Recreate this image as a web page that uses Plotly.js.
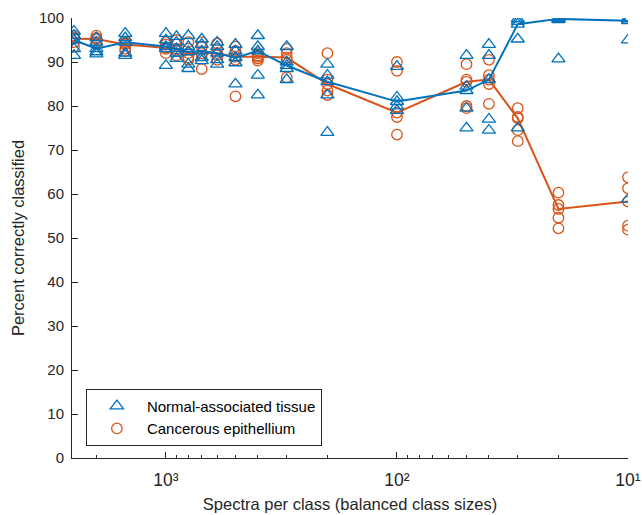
<!DOCTYPE html>
<html>
<head>
<meta charset="utf-8">
<script src="https://cdn.plot.ly/plotly-3.0.1.min.js"></script>
<style>html,body{margin:0;padding:0;background:#fff}#chart{width:642px;height:515px}</style>
</head>
<body>
<div id="chart"></div>
<script>
// Spectra per class (x positions)
const spectraPerClass = [2500, 2000, 1500, 1000, 900, 800, 700, 600, 500, 400, 300, 200, 100, 50, 40, 30, 20, 10];

// Normal-associated tissue: per-fold percent correct at each class size
const normalScores = [
  [97, 96, 95, 93, 91.5],
  [95.5, 94.5, 93, 92.3, 91.8],
  [96.5, 95.5, 94.5, 92, 91.5],
  [96.5, 95, 93.5, 93, 89.2],
  [95.8, 94.5, 93, 92, 90.8],
  [96, 93.5, 92.3, 89.5, 88.5],
  [95.2, 94, 92.5, 91, 90.3],
  [94.5, 93.5, 92, 90.5, 89.5],
  [94, 92.5, 91, 89.8, 85],
  [96, 93.5, 92.5, 87, 82.5],
  [93.5, 90, 89.2, 88.5, 86],
  [89.5, 87, 85.5, 82.5, 74],
  [89, 82, 81, 80, 79],
  [91.5, 84.5, 83.5, 79.5, 75],
  [94, 91.5, 86, 77, 74.5],
  [99.8, 99.2, 98.6, 95.2, 75],
  [100, 100, 99.8, 99.6, 90.7],
  [100, 99.8, 99.4, 95, 58.8]
];

// Cancerous epithelium: per-fold percent correct at each class size
const cancerScores = [
  [96, 95.5, 95.3, 94.5, 93.5],
  [96, 95.5, 95.2, 94.5, 94],
  [94.5, 94.2, 94, 93, 92.5],
  [94.5, 94, 93.3, 93, 92],
  [95, 94, 93, 92.5, 91.5],
  [94.5, 93, 92, 91, 90.5],
  [94.5, 93.5, 92, 91.5, 88.4],
  [94.2, 93, 92, 91.5, 90.5],
  [93.5, 92.5, 91.2, 90.5, 82.2],
  [92, 91.5, 91.2, 90.8, 90.3],
  [93, 92, 91, 90.5, 86.5],
  [92, 86, 85, 83.5, 82.5],
  [90, 88, 78.5, 77.5, 73.5],
  [89.5, 86, 85.5, 80, 79.5],
  [90.5, 87, 86, 85, 80.5],
  [79.5, 77.5, 77.2, 74.5, 72],
  [60.3, 57.5, 56.6, 54.6, 52.2],
  [63.8, 61.3, 58.3, 52.8, 51.9]
];

const seriesNames = ["Normal-associated tissue", "Cancerous epithellium"];
const yTickValues = [0, 10, 20, 30, 40, 50, 60, 70, 80, 90, 100];
const xTickValues = [1000, 100, 10];
const xTickLabels = ['10\u00B3', '10\u00B2', '10\u00B9'];

function median(a) {
  const s = a.slice().sort((p, q) => p - q);
  const m = Math.floor(s.length / 2);
  return s.length % 2 ? s[m] : (s[m - 1] + s[m]) / 2;
}
function flatten(scores) {
  const xs = [], ys = [];
  scores.forEach((row, i) => row.forEach(v => { xs.push(spectraPerClass[i]); ys.push(v); }));
  return {xs, ys};
}

const blue = '#0072BD', red = '#D95319';
const nf = flatten(normalScores), cf = flatten(cancerScores);

const traces = [
  {x: cf.xs, y: cf.ys, type: 'scatter', mode: 'markers', name: seriesNames[1], legendrank: 2,
   marker: {symbol: 'circle-open', size: 10.5, color: red, line: {width: 1.3, color: red}}},
  {x: spectraPerClass, y: cancerScores.map(median), type: 'scatter', mode: 'lines', showlegend: false,
   line: {color: red, width: 2}, hoverinfo: 'skip'},
  {x: nf.xs, y: nf.ys, type: 'scatter', mode: 'markers', name: seriesNames[0], legendrank: 1,
   marker: {symbol: 'triangle-up-open', size: 11.5, color: blue, line: {width: 1.3, color: blue}}},
  {x: spectraPerClass, y: normalScores.map(median), type: 'scatter', mode: 'lines', showlegend: false,
   line: {color: blue, width: 2}, hoverinfo: 'skip'}
];

const axisColor = '#262626';
const layout = {
  width: 642, height: 515,
  margin: {l: 72, r: 14, t: 18, b: 57},
  paper_bgcolor: '#fff', plot_bgcolor: '#fff',
  font: {family: 'Liberation Sans, Arial, sans-serif', size: 14.5, color: axisColor},
  showlegend: true,
  xaxis: {
    type: 'log',
    range: [Math.log10(2550), 1],
    tickmode: 'array',
    tickvals: xTickValues,
    ticktext: xTickLabels,
    showgrid: false, zeroline: false,
    showline: true, linecolor: axisColor, linewidth: 1,
    ticks: 'inside', ticklen: 6, tickcolor: axisColor,
    ticklabelstandoff: 6,
    ticklabeloverflow: 'allow',
    minor: {ticks: 'inside', ticklen: 3.5, tickcolor: axisColor, dtick: 'D1', showgrid: false},
    tickfont: {size: 17.5, color: axisColor},
    title: {text: 'Spectra per class (balanced class sizes)', font: {size: 16.5, color: axisColor}, standoff: 9}
  },
  yaxis: {
    range: [0, 100],
    tickvals: yTickValues,
    showgrid: false, zeroline: false,
    showline: true, linecolor: axisColor, linewidth: 1,
    ticks: 'inside', ticklen: 6, tickcolor: axisColor,
    ticklabelstandoff: 4,
    tickfont: {size: 15, color: axisColor},
    title: {text: 'Percent correctly classified', font: {size: 16.5, color: axisColor}, standoff: 10}
  },
  legend: {
    x: 0.025, y: 0.028, xanchor: 'left', yanchor: 'bottom',
    bgcolor: '#fff', bordercolor: axisColor, borderwidth: 1,
    font: {size: 15, color: '#000'},
    itemwidth: 50, tracegroupgap: 0
  }
};

Plotly.newPlot('chart', traces, layout, {displayModeBar: false, staticPlot: true});
</script>
</body>
</html>
